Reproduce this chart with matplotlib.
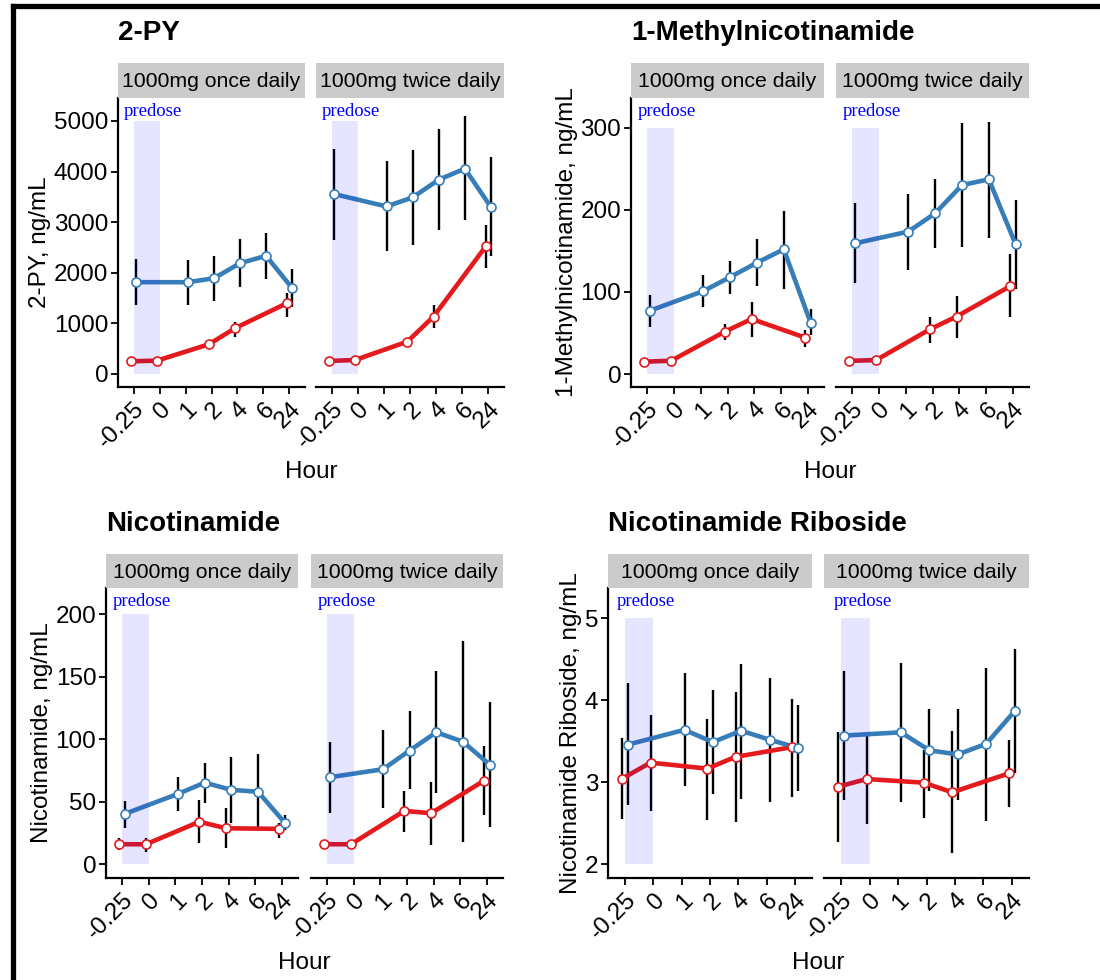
import numpy as np
import matplotlib
matplotlib.use("Agg")
import matplotlib.pyplot as plt
from matplotlib.lines import Line2D
import matplotlib.transforms as mtransforms

plt.rcParams['font.family'] = ['Liberation Sans', 'DejaVu Sans']

nan = np.nan

################################################################################
# data

hours = ["-0.25", "0", "1", "2", "4", "6", "24"]
regimens = ["1000mg once daily", "1000mg twice daily"]
titles = ["2-PY", "1-Methylnicotinamide", "Nicotinamide", "Nicotinamide Riboside"]
ylabels = ["2-PY, ng/mL", "1-Methylnicotinamide, ng/mL",
           "Nicotinamide, ng/mL", "Nicotinamide Riboside, ng/mL"]

# 2-PY
py_once_red = [251, 264, nan, 587, 904, nan, 1398]
py_once_red_lo = [220, 235, nan, 540, 740, nan, 1135]
py_once_red_hi = [285, 295, nan, 640, 1036, nan, 1596]
py_once_blue = [1814, nan, 1814, 1893, 2190, 2335, 1702]
py_once_blue_lo = [1365, nan, 1365, 1451, 1715, 1873, 1332]
py_once_blue_hi = [2269, nan, 2256, 2322, 2665, 2784, 2071]
py_twice_red = [257, 277, nan, 640, 1135, nan, 2520]
py_twice_red_lo = [230, 250, nan, 600, 904, nan, 2091]
py_twice_red_hi = [285, 305, nan, 690, 1365, nan, 2949]
py_twice_blue = [3555, nan, 3311, 3489, 3839, 4057, 3298]
py_twice_blue_lo = [2639, nan, 2421, 2553, 2850, 3034, 2322]
py_twice_blue_hi = [4452, nan, 4202, 4420, 4842, 5092, 4281]

# 1-Methylnicotinamide
mn_once_red = [15, 16.2, nan, 51.6, 67, nan, 44.3]
mn_once_red_lo = [13, 14, nan, 42, 45, nan, 33.3]
mn_once_red_hi = [17, 18.5, nan, 61, 88, nan, 53.6]
mn_once_blue = [77, nan, 101, 118, 135.6, 151.8, 62.5]
mn_once_blue_lo = [57, nan, 81, 97.4, 107, 104, 47.5]
mn_once_blue_hi = [96, nan, 120, 137.6, 164.4, 199, 78.8]
mn_twice_red = [16, 17, nan, 54.4, 70, nan, 107]
mn_twice_red_lo = [14, 15, nan, 38, 43.4, nan, 69]
mn_twice_red_hi = [18, 19, nan, 70, 95, nan, 145.8]
mn_twice_blue = [159, nan, 173.4, 195.7, 230, 237, 158]
mn_twice_blue_lo = [110.4, nan, 126.7, 153, 155, 165, 104]
mn_twice_blue_hi = [208.7, nan, 219, 237.5, 305, 307, 212]

# Nicotinamide
nam_once_red = [16, 16, nan, 34, 28.8, nan, 28.3]
nam_once_red_lo = [11.5, 9.6, nan, 16.8, 12.8, nan, 20.8]
nam_once_red_hi = [20.8, 21, nan, 51.5, 44.8, nan, 32.8]
nam_once_blue = [40.3, nan, 56.3, 65.3, 59.5, 58, 33.3]
nam_once_blue_lo = [28.8, nan, 43, 49.3, 32.8, 30, 27.5]
nam_once_blue_hi = [51, nan, 69.6, 80.8, 85.6, 88, 39.5]
nam_twice_red = [16, 16, nan, 42.7, 40.8, nan, 67]
nam_twice_red_lo = [14, 14, nan, 26, 15.5, nan, 39.5]
nam_twice_red_hi = [18, 18, nan, 59, 66, nan, 94.7]
nam_twice_blue = [69.6, nan, 76, 91, 105.6, 98, 79.7]
nam_twice_blue_lo = [41.3, nan, 45.3, 60, 56.8, 18, 29.6]
nam_twice_blue_hi = [97.6, nan, 107.5, 122.7, 155, 179, 130]

# Nicotinamide Riboside
nr_once_red = [3.045, 3.24, nan, 3.167, 3.31, nan, 3.43]
nr_once_red_lo = [2.549, 2.654, nan, 2.54, 2.52, nan, 2.82]
nr_once_red_hi = [3.537, 3.817, nan, 3.776, 4.10, nan, 4.02]
nr_once_blue = [3.46, nan, 3.64, 3.49, 3.63, 3.52, 3.42]
nr_once_blue_lo = [2.72, nan, 2.95, 2.86, 2.80, 2.76, 2.90]
nr_once_blue_hi = [4.21, nan, 4.33, 4.13, 4.44, 4.27, 3.94]
nr_twice_red = [2.947, 3.04, nan, 2.996, 2.878, nan, 3.11]
nr_twice_red_lo = [2.276, 2.49, nan, 2.57, 2.14, nan, 2.70]
nr_twice_red_hi = [3.61, 3.56, nan, 3.39, 3.62, nan, 3.52]
nr_twice_blue = [3.57, nan, 3.61, 3.39, 3.34, 3.47, 3.87]
nr_twice_blue_lo = [2.78, nan, 2.76, 2.89, 2.78, 2.53, 3.11]
nr_twice_blue_hi = [4.36, nan, 4.45, 3.89, 3.90, 4.40, 4.63]

yticks_py = [0, 1000, 2000, 3000, 4000, 5000]
yticks_mn = [0, 100, 200, 300]
yticks_nam = [0, 50, 100, 150, 200]
yticks_nr = [2, 3, 4, 5]

################################################################################

RED = '#E41A1C'
BLUE = '#377EB8'
W, H = 1100, 980
DODGE = 0.1


def rect(x0, x1, y0, y1):
    return [x0 / W, 1 - y1 / H, (x1 - x0) / W, (y1 - y0) / H]


def draw_series(ax, x, m, lo, hi, color):
    m = np.array(m, dtype=float)
    ok = ~np.isnan(m)
    xs = x[ok]
    ax.vlines(xs, np.array(lo, dtype=float)[ok], np.array(hi, dtype=float)[ok],
              color='black', lw=1.7, zorder=2)
    ax.plot(xs, m[ok], color=color, lw=3.3, zorder=3, solid_capstyle='round')
    ax.plot(xs, m[ok], 'o', ms=6.5, mfc='white', mec=color, mew=1.2, zorder=5)


def facet(ax, series, yticks, ylim, left):
    x = np.arange(len(hours))
    ybot, ytop = yticks[0], yticks[-1]
    rm, rl, rh, bm, bl, bh = series
    draw_series(ax, x - DODGE, rm, rl, rh, RED)
    draw_series(ax, x + DODGE, bm, bl, bh, BLUE)
    ax.fill_between([0, 1], ybot, ytop, color='blue', alpha=0.1, lw=0, zorder=4)
    trans = mtransforms.blended_transform_factory(ax.transData, ax.transAxes)
    ax.text(0.75, 0.952, 'predose', color='blue', transform=trans,
            family='Liberation Serif', fontsize=13.5, ha='center', va='center')
    ax.set_xlim(-0.6, 6.6)
    ax.set_ylim(*ylim)
    ax.set_xticks(x)
    ax.set_xticklabels(hours, rotation=45, ha='right', rotation_mode='anchor')
    ax.tick_params(axis='both', labelsize=17.5, length=5, width=1.3, color='black')
    ax.tick_params(axis='x', pad=3)
    ax.tick_params(axis='y', pad=2)
    for s in ['top', 'right']:
        ax.spines[s].set_visible(False)
    ax.spines['bottom'].set_linewidth(1.6)
    ax.spines['left'].set_linewidth(1.6)
    if left:
        ax.set_yticks(yticks)
    else:
        ax.spines['left'].set_visible(False)
        ax.set_yticks([])


def strip(fig, box, label):
    sax = fig.add_axes(box)
    sax.set_facecolor('#cbcbcb')
    sax.set_xticks([])
    sax.set_yticks([])
    for s in sax.spines.values():
        s.set_visible(False)
    sax.text(0.5, 0.47, label, ha='center', va='center', fontsize=15.3,
             transform=sax.transAxes)


fig = plt.figure(figsize=(11, 9.8), dpi=100)

groups = [
    # title, ylabel, left-panel px, right-panel px, top, bottom, strip top, ticks, ylim, data
    (titles[0], ylabels[0], (118, 305), (316, 504), 98, 387, 63, yticks_py, (-257, 5454),
     [(py_once_red, py_once_red_lo, py_once_red_hi, py_once_blue, py_once_blue_lo, py_once_blue_hi),
      (py_twice_red, py_twice_red_lo, py_twice_red_hi, py_twice_blue, py_twice_blue_lo, py_twice_blue_hi)]),
    (titles[1], ylabels[1], (631, 824), (836, 1029), 98, 387, 63, yticks_mn, (-15.8, 336),
     [(mn_once_red, mn_once_red_lo, mn_once_red_hi, mn_once_blue, mn_once_blue_lo, mn_once_blue_hi),
      (mn_twice_red, mn_twice_red_lo, mn_twice_red_hi, mn_twice_blue, mn_twice_blue_lo, mn_twice_blue_hi)]),
    (titles[2], ylabels[2], (106, 298), (311, 503), 588, 878, 554, yticks_nam, (-11, 221),
     [(nam_once_red, nam_once_red_lo, nam_once_red_hi, nam_once_blue, nam_once_blue_lo, nam_once_blue_hi),
      (nam_twice_red, nam_twice_red_lo, nam_twice_red_hi, nam_twice_blue, nam_twice_blue_lo, nam_twice_blue_hi)]),
    (titles[3], ylabels[3], (608, 812), (824, 1029), 588, 878, 554, yticks_nr, (1.833, 5.37),
     [(nr_once_red, nr_once_red_lo, nr_once_red_hi, nr_once_blue, nr_once_blue_lo, nr_once_blue_hi),
      (nr_twice_red, nr_twice_red_lo, nr_twice_red_hi, nr_twice_blue, nr_twice_blue_lo, nr_twice_blue_hi)]),
]

for title, ylab, lp, rp, top, bot, stop, ticks, ylim, data in groups:
    for i, (px, reg, ser) in enumerate(zip([lp, rp], regimens, data)):
        ax = fig.add_axes(rect(px[0], px[1], top, bot))
        facet(ax, ser, ticks, ylim, i == 0)
        strip(fig, rect(px[0], px[1], stop, top), reg)
        if i == 0:
            ax.set_ylabel(ylab, fontsize=17.5, labelpad=2)
    fig.text(lp[0] / W, 1 - (stop - 30) / H, title, fontsize=20, fontweight='bold',
             ha='left', va='center')
    fig.text((lp[0] + rp[1]) / 2 / W, 1 - (bot + 85) / H, 'Hour', fontsize=17.5,
             ha='center', va='center')

# frame lines along the left and top edges
fig.add_artist(Line2D([13 / W, 13 / W], [0, 1 - 6 / H], color='black', lw=3.8,
                      transform=fig.transFigure, solid_capstyle='projecting'))
fig.add_artist(Line2D([13 / W, 1], [1 - 6 / H, 1 - 6 / H], color='black', lw=3.8,
                      transform=fig.transFigure, solid_capstyle='projecting'))

fig.savefig('out.png', dpi=100)
